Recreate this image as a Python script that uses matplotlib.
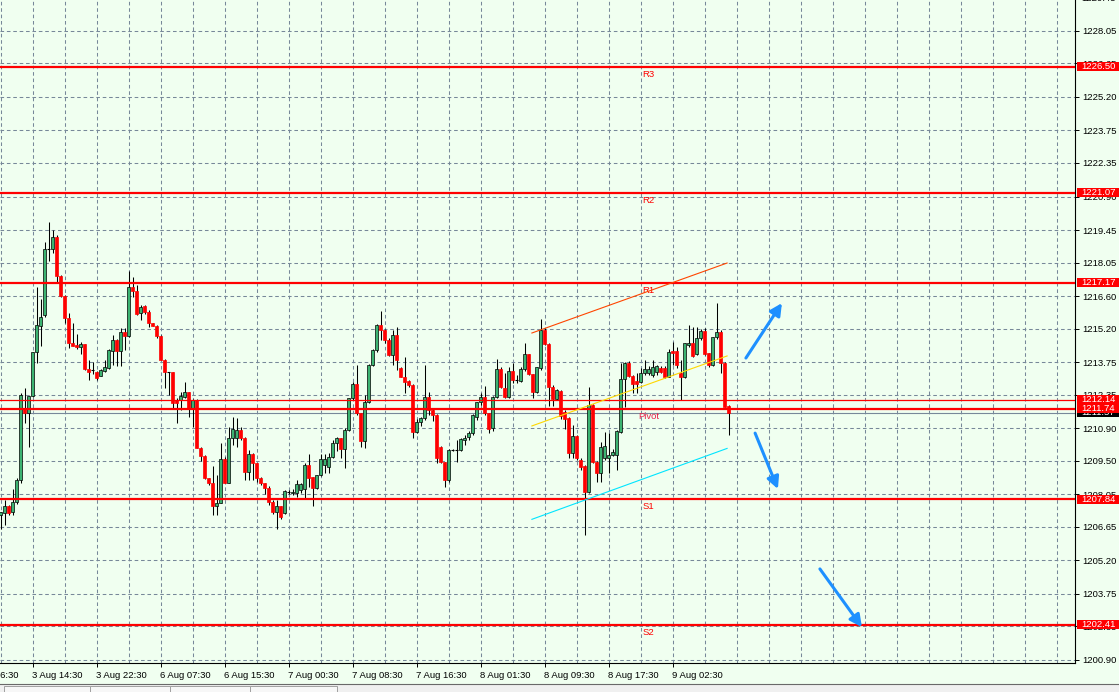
import matplotlib

matplotlib.use("Agg")
import matplotlib.pyplot as plt
from matplotlib import transforms
from matplotlib.lines import Line2D
from matplotlib.patches import Rectangle

plt.rcParams["font.family"] = ["Liberation Sans", "DejaVu Sans"]
plt.rcParams["lines.scale_dashes"] = False

BG_COLOR = "#F0FFF0"
GRID_COLOR = "#778899"
BULL_COLOR = "#3CB371"
BEAR_COLOR = "#FF0000"
LEVEL_COLOR = "#FF0000"
ARROW_COLOR = "#1E90FF"
FONT_SIZE = 6.8
GRID_DASH = (0, (2.6, 2.0))

# M30 candles, left to right
opens = [
    1207.16, 1207.23, 1207.55, 1207.27, 1207.73, 1208.67, 1211.73, 1211.56, 1212.31, 1214.18,
    1215.31, 1215.77, 1218.62, 1218.62, 1219.14, 1217.49, 1216.62, 1215.64, 1214.57, 1214.49,
    1214.39, 1214.52, 1213.44, 1213.40, 1213.31, 1213.16, 1213.39, 1213.49, 1214.25, 1214.71,
    1214.25, 1215.04, 1214.88, 1216.98, 1216.82, 1215.86, 1216.17, 1215.90, 1215.43, 1215.33,
    1214.88, 1213.85, 1213.31, 1213.31, 1212.12, 1212.12, 1212.26, 1212.45, 1211.72, 1212.12,
    1210.06, 1209.72, 1208.74, 1208.52, 1207.55, 1207.69, 1209.56, 1208.55, 1210.47, 1210.47,
    1210.83, 1210.47, 1209.03, 1209.79, 1209.39, 1208.77, 1208.52, 1208.34, 1207.70, 1207.27,
    1207.54, 1207.23, 1208.14, 1208.09, 1208.12, 1208.24, 1208.26, 1209.33, 1208.78, 1208.31,
    1208.88, 1209.33, 1209.21, 1209.65, 1210.25, 1210.46, 1210.00, 1210.83, 1212.19, 1212.80,
    1211.54, 1210.36, 1212.05, 1213.63, 1214.28, 1215.36, 1215.14, 1214.71, 1214.06, 1214.92,
    1213.48, 1213.13, 1212.94, 1212.77, 1210.75, 1211.15, 1211.33, 1212.23, 1211.69, 1211.47,
    1210.11, 1209.43, 1208.67, 1209.94, 1209.96, 1209.94, 1210.39, 1210.54, 1210.71, 1211.40,
    1212.02, 1212.26, 1211.54, 1210.90, 1212.26, 1213.44, 1212.62, 1212.23, 1213.37, 1212.98,
    1212.95, 1213.44, 1214.10, 1213.24, 1212.48, 1213.49, 1215.14, 1214.54, 1212.69, 1212.16,
    1212.51, 1211.60, 1211.34, 1209.85, 1210.57, 1209.53, 1209.27, 1208.13, 1211.90, 1209.46,
    1208.96, 1209.60, 1209.60, 1209.75, 1209.75, 1210.75, 1213.01, 1213.73, 1213.17, 1212.95,
    1212.91, 1213.27, 1213.27, 1213.20, 1213.34, 1213.50, 1213.50, 1213.13, 1214.23, 1214.23,
    1213.27, 1213.10, 1214.49, 1214.59, 1214.10, 1214.78, 1215.11, 1214.13, 1213.63, 1214.82,
    1215.07, 1213.73, 1211.86,
]
highs = [
    1207.30, 1207.81, 1207.60, 1208.27, 1208.74, 1212.40, 1212.64, 1212.30, 1214.20, 1216.98,
    1216.49, 1218.95, 1219.79, 1219.46, 1219.24, 1217.51, 1216.65, 1215.89, 1215.43, 1214.95,
    1214.64, 1214.55, 1213.85, 1213.75, 1213.39, 1213.45, 1213.85, 1214.30, 1214.92, 1214.75,
    1215.21, 1215.21, 1217.70, 1217.44, 1217.08, 1216.22, 1216.22, 1216.00, 1215.45, 1215.36,
    1214.92, 1213.87, 1213.34, 1213.33, 1212.19, 1212.48, 1212.91, 1212.47, 1212.15, 1212.15,
    1210.08, 1209.74, 1208.76, 1209.29, 1208.88, 1210.28, 1209.67, 1210.97, 1211.37, 1211.33,
    1210.97, 1210.51, 1209.96, 1209.82, 1209.40, 1208.80, 1208.55, 1208.40, 1207.80, 1207.80,
    1207.56, 1208.25, 1208.25, 1208.30, 1208.67, 1208.55, 1209.39, 1209.79, 1208.81, 1208.90,
    1209.79, 1209.79, 1209.82, 1210.39, 1210.53, 1210.50, 1210.90, 1212.20, 1212.91, 1213.63,
    1211.57, 1212.33, 1213.66, 1214.30, 1215.40, 1215.96, 1215.17, 1214.80, 1215.14, 1215.28,
    1213.55, 1213.96, 1213.00, 1212.80, 1211.30, 1211.40, 1213.63, 1212.48, 1211.75, 1211.50,
    1210.15, 1209.45, 1210.00, 1210.00, 1210.39, 1210.50, 1210.61, 1210.80, 1211.50, 1212.05,
    1212.40, 1212.72, 1211.57, 1212.30, 1213.87, 1213.56, 1213.30, 1213.56, 1213.70, 1213.20,
    1213.56, 1214.59, 1214.12, 1213.26, 1213.56, 1215.60, 1215.21, 1214.56, 1212.75, 1212.60,
    1212.55, 1211.70, 1211.40, 1211.04, 1210.61, 1209.60, 1209.30, 1212.66, 1211.95, 1209.50,
    1210.32, 1210.75, 1210.68, 1210.00, 1210.82, 1213.70, 1213.77, 1213.80, 1213.20, 1213.27,
    1213.50, 1213.85, 1213.60, 1213.85, 1213.65, 1213.60, 1213.60, 1214.30, 1214.63, 1214.40,
    1213.85, 1214.60, 1215.35, 1215.28, 1215.28, 1215.17, 1215.21, 1214.15, 1214.85, 1216.29,
    1215.14, 1213.76, 1211.90,
]
lows = [
    1206.55, 1206.73, 1207.15, 1207.16, 1207.63, 1208.52, 1211.13, 1210.09, 1212.25, 1213.70,
    1214.46, 1215.72, 1218.13, 1218.45, 1217.23, 1216.55, 1215.43, 1214.35, 1214.44, 1214.32,
    1214.09, 1213.42, 1212.98, 1213.23, 1212.98, 1213.14, 1213.34, 1213.45, 1213.63, 1213.60,
    1213.60, 1214.28, 1214.85, 1216.58, 1215.79, 1215.57, 1215.85, 1215.28, 1215.30, 1214.78,
    1213.83, 1212.62, 1212.34, 1211.76, 1211.11, 1211.69, 1212.19, 1211.40, 1210.97, 1210.03,
    1209.50, 1208.72, 1208.45, 1207.16, 1207.16, 1207.66, 1208.52, 1208.52, 1210.18, 1210.11,
    1210.40, 1208.67, 1208.67, 1208.67, 1208.60, 1208.45, 1208.07, 1207.60, 1207.20, 1206.54,
    1207.00, 1207.20, 1208.05, 1208.00, 1207.95, 1208.09, 1207.90, 1208.38, 1207.56, 1208.28,
    1208.85, 1208.96, 1208.96, 1209.60, 1209.90, 1209.60, 1209.17, 1210.80, 1212.12, 1211.47,
    1210.11, 1210.03, 1212.00, 1213.60, 1214.20, 1214.71, 1214.60, 1214.00, 1213.63, 1213.41,
    1213.10, 1212.41, 1212.70, 1210.46, 1210.70, 1211.00, 1211.26, 1211.47, 1211.20, 1209.42,
    1209.40, 1208.35, 1208.60, 1209.90, 1209.43, 1209.90, 1210.18, 1210.40, 1210.60, 1211.26,
    1211.90, 1211.47, 1210.68, 1210.80, 1212.19, 1212.62, 1212.20, 1212.19, 1212.84, 1212.84,
    1212.91, 1213.39, 1213.20, 1212.19, 1212.40, 1213.42, 1214.49, 1211.86, 1211.86, 1212.10,
    1211.30, 1210.85, 1209.60, 1209.60, 1209.53, 1209.10, 1206.29, 1208.09, 1209.41, 1208.60,
    1208.60, 1209.53, 1208.96, 1209.70, 1209.10, 1210.70, 1211.83, 1213.10, 1212.40, 1212.40,
    1212.84, 1213.20, 1213.20, 1213.13, 1213.20, 1213.27, 1213.05, 1213.10, 1213.63, 1213.50,
    1212.11, 1213.05, 1214.42, 1213.98, 1214.06, 1214.70, 1214.06, 1213.53, 1213.60, 1214.73,
    1213.27, 1211.80, 1210.61,
]
closes = [
    1207.30, 1207.55, 1207.23, 1207.73, 1208.67, 1212.33, 1211.56, 1212.29, 1214.18, 1215.36,
    1215.72, 1218.62, 1218.60, 1219.14, 1217.49, 1216.62, 1215.64, 1214.57, 1214.46, 1214.39,
    1214.54, 1213.44, 1213.34, 1213.40, 1213.06, 1213.41, 1213.53, 1214.28, 1214.71, 1214.25,
    1215.04, 1214.88, 1216.98, 1216.82, 1215.83, 1216.15, 1215.90, 1215.43, 1215.33, 1214.88,
    1213.85, 1213.31, 1213.30, 1212.00, 1212.00, 1212.29, 1212.45, 1211.72, 1212.12, 1210.06,
    1209.72, 1208.74, 1208.52, 1207.55, 1207.69, 1209.56, 1208.55, 1210.47, 1210.85, 1210.83,
    1210.47, 1209.03, 1209.79, 1209.39, 1208.74, 1208.52, 1208.34, 1207.70, 1207.27, 1207.54,
    1207.06, 1208.19, 1208.16, 1208.16, 1208.50, 1208.50, 1209.33, 1208.77, 1208.31, 1208.88,
    1209.56, 1209.57, 1209.65, 1210.25, 1210.46, 1210.00, 1210.83, 1212.19, 1212.80, 1211.54,
    1210.36, 1212.02, 1213.63, 1214.28, 1215.36, 1215.14, 1214.71, 1214.06, 1214.92, 1213.85,
    1213.13, 1212.91, 1212.77, 1210.75, 1211.15, 1211.33, 1212.23, 1211.69, 1211.47, 1209.60,
    1209.43, 1208.67, 1209.96, 1209.96, 1209.94, 1210.42, 1210.46, 1210.71, 1211.47, 1212.02,
    1212.23, 1211.54, 1210.85, 1212.26, 1213.44, 1212.70, 1212.26, 1213.37, 1212.98, 1213.00,
    1213.44, 1214.10, 1213.24, 1212.48, 1213.53, 1215.14, 1214.54, 1212.70, 1212.16, 1212.55,
    1211.43, 1211.30, 1209.85, 1210.57, 1209.60, 1209.24, 1208.13, 1211.90, 1209.46, 1208.96,
    1210.11, 1210.13, 1209.75, 1209.86, 1210.78, 1213.01, 1213.73, 1213.17, 1212.81, 1212.81,
    1213.27, 1213.46, 1213.46, 1213.56, 1213.60, 1213.34, 1213.10, 1214.20, 1214.16, 1213.63,
    1213.10, 1214.59, 1214.59, 1214.02, 1214.78, 1215.11, 1214.10, 1213.63, 1214.82, 1215.07,
    1213.73, 1211.83, 1211.57,
]

time_tick_pos = [-8, 8, 24, 40, 56, 72, 88, 104, 120, 136, 152, 168]
time_tick_labels = [
    "3 Aug 06:30", "3 Aug 14:30", "3 Aug 22:30", "6 Aug 07:30", "6 Aug 15:30", "7 Aug 00:30",
    "7 Aug 08:30", "7 Aug 16:30", "8 Aug 01:30", "8 Aug 09:30", "8 Aug 17:30", "9 Aug 02:30",
]

price_ticks = [
    1200.90, 1202.35, 1203.75, 1205.20, 1206.65, 1208.05, 1209.50, 1210.90, 1212.35, 1213.75,
    1215.20, 1216.60, 1218.05, 1219.45, 1220.90, 1222.35, 1223.75, 1225.20, 1226.65, 1228.05,
]
top_price_label = 1229.45

level_names = ["R3", "R2", "R1", "Pivot", "S1", "S2"]
level_values = [1226.50, 1221.07, 1217.17, 1211.74, 1207.84, 1202.41]
extra_level = 1212.14

channel_x = [132.8, 181.6]
channel_upper = [1215.01, 1218.03]
channel_middle = [1211.00, 1214.02]
channel_lower = [1206.97, 1210.03]

arrow_x0 = [186.3, 188.6, 204.8]
arrow_y0 = [1213.93, 1210.69, 1204.83]
arrow_x1 = [195.3, 194.3, 215.3]
arrow_y1 = [1216.30, 1208.28, 1202.32]

X_MIN, X_MAX = -0.175, 268.575
Y_MIN, Y_MAX = 1200.77, 1229.38
FIG_W, FIG_H = 1119, 692
AX_W, AX_H = 1075, 663


def draw_candles(ax):
    xs = list(range(len(opens)))
    ax.vlines(xs, lows, highs, color="black", linewidth=0.75, zorder=3)
    for x, o, c in zip(xs, opens, closes):
        if abs(c - o) < 0.03:
            ax.hlines(o, x - 0.4, x + 0.4, color="black", linewidth=0.8, zorder=4)
            continue
        if c > o:
            face, edge = BULL_COLOR, "black"
        else:
            face, edge = BEAR_COLOR, BEAR_COLOR
        ax.add_patch(Rectangle((x - 0.36, min(o, c)), 0.72, abs(c - o),
                               facecolor=face, edgecolor=edge, linewidth=0.5, zorder=4))


def draw_levels(ax):
    ax.axhline(closes[-1], color=GRID_COLOR, linewidth=0.8, zorder=2)
    ax.axhline(extra_level, color=LEVEL_COLOR, linewidth=0.9, zorder=5)
    for name, value in zip(level_names, level_values):
        ax.axhline(value, color=LEVEL_COLOR, linewidth=1.6, zorder=5)
        color = "#E8204A" if name == "Pivot" else LEVEL_COLOR
        ax.annotate(name, xy=(162, value), xytext=(0, -5.5), textcoords="offset points",
                    ha="center", va="center", color=color, fontsize=FONT_SIZE, zorder=6)

    ax.plot(channel_x, channel_upper, color="#FF4500", linewidth=0.8, zorder=6)
    ax.plot(channel_x, channel_middle, color="#FFD700", linewidth=0.8, zorder=6)
    ax.plot(channel_x, channel_lower, color="#00E5FF", linewidth=0.8, zorder=6)

    for x0, y0, x1, y1 in zip(arrow_x0, arrow_y0, arrow_x1, arrow_y1):
        ax.annotate("", xy=(x1, y1), xytext=(x0, y0),
                    arrowprops=dict(arrowstyle="-|>,head_length=0.55,head_width=0.28",
                                    color=ARROW_COLOR, lw=2.2, mutation_scale=13,
                                    shrinkA=0, shrinkB=0),
                    zorder=7)


def price_tag(ax, value, color, z):
    trans = transforms.blended_transform_factory(ax.transAxes, ax.transData)
    h = 9 * (Y_MAX - Y_MIN) / AX_H
    ax.add_patch(Rectangle((1 + 1.5 / AX_W, value - h / 2), 42 / AX_W, h, transform=trans,
                           facecolor=color, edgecolor="none", clip_on=False, zorder=z))
    ax.text(1 + 6 / AX_W, value, f"{value:.2f}", transform=trans, color="white",
            fontsize=FONT_SIZE, ha="left", va="center", clip_on=False, zorder=z + 0.5)


def draw_axes(ax):
    ax.set_xlim(X_MIN, X_MAX)
    ax.set_ylim(Y_MIN, Y_MAX)
    ax.set_facecolor(BG_COLOR)
    for side in ["top", "left"]:
        ax.spines[side].set_visible(False)
    for side in ["right", "bottom"]:
        ax.spines[side].set_linewidth(0.8)
        ax.spines[side].set_color("black")

    ax.yaxis.tick_right()
    ax.set_yticks(price_ticks)
    ax.set_yticklabels([f"{p:.2f}" for p in price_ticks])
    ax.tick_params(axis="y", direction="out", length=3, width=0.7, pad=2.2,
                   labelsize=FONT_SIZE, colors="black")
    ax.grid(True, axis="y", linestyle=GRID_DASH, color=GRID_COLOR, linewidth=0.75)

    for x in range(0, int(X_MAX) + 1, 8):
        ax.axvline(x, linestyle=GRID_DASH, color=GRID_COLOR, linewidth=0.75, zorder=1)

    ax.set_xticks(time_tick_pos[1:])
    ax.set_xticklabels([])
    ax.tick_params(axis="x", direction="out", length=3, width=0.7)
    trans = transforms.blended_transform_factory(ax.transData, ax.transAxes)
    for pos, label in zip(time_tick_pos, time_tick_labels):
        ax.text(pos - 0.3, -12.5 / AX_H, label, transform=trans, ha="left", va="center",
                fontsize=FONT_SIZE, clip_on=False)

    trans_y = transforms.blended_transform_factory(ax.transAxes, ax.transData)
    ax.text(1 + 6 / AX_W, top_price_label, f"{top_price_label:.2f}", transform=trans_y,
            ha="left", va="center", fontsize=FONT_SIZE, clip_on=False)


def draw_tab_bar(fig):
    top = 8 / FIG_H
    fig.patches.append(Rectangle((0, 0), 1, top, transform=fig.transFigure,
                                 facecolor="#F0F0F0", edgecolor="none"))
    fig.add_artist(Line2D([0, 1], [top, top], transform=fig.transFigure,
                          color="#696969", linewidth=0.8))
    tab_edges = [4, 90, 170, 250, 337]
    for x0, x1 in zip(tab_edges[:-1], tab_edges[1:]):
        fig.patches.append(Rectangle((x0 / FIG_W, 0), (x1 - x0) / FIG_W, 6 / FIG_H,
                                     transform=fig.transFigure, facecolor="#F7F7F7",
                                     edgecolor="#A0A0A0", linewidth=0.7))


def main():
    fig = plt.figure(figsize=(FIG_W / 100, FIG_H / 100), dpi=100, facecolor=BG_COLOR)
    ax = fig.add_axes([0, (FIG_H - AX_H) / FIG_H, AX_W / FIG_W, AX_H / FIG_H])

    draw_axes(ax)
    draw_candles(ax)
    draw_levels(ax)

    price_tag(ax, closes[-1], "black", 10)
    price_tag(ax, extra_level, LEVEL_COLOR, 11)
    for value in level_values:
        price_tag(ax, value, LEVEL_COLOR, 12)

    draw_tab_bar(fig)
    fig.savefig("out.png", dpi=100, facecolor=BG_COLOR)
    plt.close(fig)


if __name__ == "__main__":
    main()
